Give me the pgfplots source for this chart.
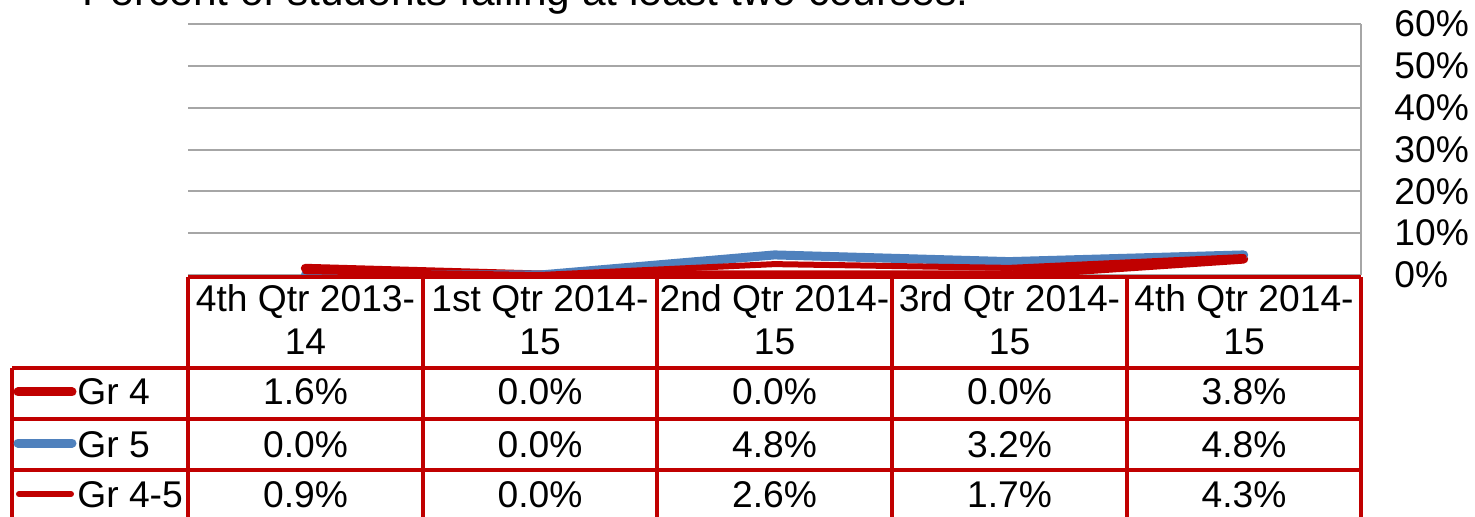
\documentclass[border=0pt]{standalone}
\usepackage{pgfplots}
\pgfplotsset{compat=1.18}
\usepackage{fontspec}
\setmainfont{Liberation Sans}
\definecolor{dred}{HTML}{C00000}
\definecolor{sblue}{HTML}{4F81BD}
\definecolor{gridgray}{HTML}{A6A6A6}
\newcommand{\cf}{\fontsize{18.6}{22}\selectfont}
\begin{document}
\begin{tikzpicture}
\useasboundingbox (0,0) rectangle (737.5pt,-258.5pt);
\clip (0,0) rectangle (737.5pt,-258.5pt);
\begin{axis}[
  at={(94pt,-137.5pt)}, anchor=south west,
  scale only axis, width=586.5pt, height=125.5pt,
  xmin=-0.5, xmax=4.5, ymin=0, ymax=60,
  clip=false,
  axis y line*=right, axis x line*=bottom,
  x axis line style={draw=none},
  y axis line style={gridgray, line width=1pt},
  xtick=\empty,
  ytick={0,10,...,60},
  ymajorgrids,
  major grid style={gridgray, line width=1pt},
  major tick length=0pt,
  /pgf/number format/assume math mode=true,
  yticklabel={\pgfmathprintnumber{\tick}\%},
  yticklabel style={anchor=west, inner sep=0pt, xshift=16.5pt, font=\cf},
]
\addplot[dred, line width=4.5pt, line cap=round, line join=round] coordinates {(0,1.6)(1,0)(2,0)(3,0)(4,3.8)};
\addplot[sblue, line width=4.5pt, line cap=round, line join=round] coordinates {(0,0)(1,0)(2,4.8)(3,3.2)(4,4.8)};
\addplot[dred, line width=3pt, line cap=round, line join=round] coordinates {(0,0.9)(1,0)(2,2.6)(3,1.7)(4,4.3)};
\end{axis}
\node[anchor=base west, inner sep=0pt, font=\fontsize{21.2}{25}\selectfont] at (41pt,-3pt) {Percent of students failing at least two courses.};
\begin{scope}[x=0.5pt,y=-0.5pt]
  % table grid
  \fill[white] (188,279) rectangle (1361,368);
  \begin{scope}[dred, line width=2.3pt]
    \draw (188,277) -- (1361,277);
    \foreach \xx in {188,423,657,892,1127,1361} \draw (\xx,277) -- (\xx,530);
    \draw (12,368) -- (12,530);
    \foreach \yy in {368,419,470,519} \draw (12,\yy) -- (1361,\yy);
  \end{scope}
  % header text
  \foreach \cx/\la/\lb in {305.5/4th Qtr 2013-/14, 540/1st Qtr 2014-/15, 774.5/2nd Qtr 2014-/15, 1009.5/3rd Qtr 2014-/15, 1244/4th Qtr 2014-/15}{
    \node[anchor=base, inner sep=0pt, font=\cf] at (\cx,312) {\la};
    \node[anchor=base, inner sep=0pt, font=\cf] at (\cx,355) {\lb};
  }
  % legend keys
  \draw[dred, line width=4.5pt, line cap=round] (18,392) -- (72,392);
  \draw[sblue, line width=4.5pt, line cap=round] (18,443) -- (72,443);
  \draw[dred, line width=3pt, line cap=round] (19,494) -- (71,494);
  \node[anchor=base west, inner sep=0pt, font=\cf] at (77,405) {Gr 4};
  \node[anchor=base west, inner sep=0pt, font=\cf] at (77,457) {Gr 5};
  \node[anchor=base west, inner sep=0pt, font=\cf] at (77,507) {Gr 4-5};
  % values
  \foreach \cx/\va/\vb/\vc in {305.5/1.6/0.0/0.9, 540/0.0/0.0/0.0, 774.5/0.0/4.8/2.6, 1009.5/0.0/3.2/1.7, 1244/3.8/4.8/4.3}{
    \node[anchor=base, inner sep=0pt, font=\cf] at (\cx,405) {\va\%};
    \node[anchor=base, inner sep=0pt, font=\cf] at (\cx,457) {\vb\%};
    \node[anchor=base, inner sep=0pt, font=\cf] at (\cx,507) {\vc\%};
  }
\end{scope}
\end{tikzpicture}
\end{document}
